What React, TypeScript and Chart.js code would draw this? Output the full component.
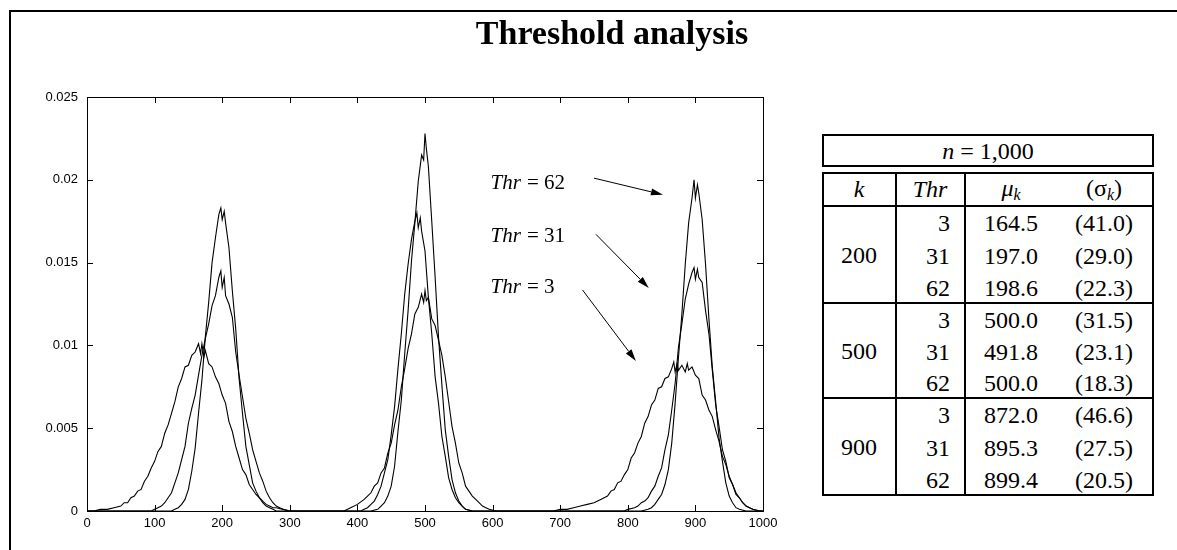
import React, { useEffect, useRef } from "react";
import { Chart, registerables } from "chart.js";

Chart.register(...registerables);

// ---------- data ----------
const xTickLabels = ["0", "100", "200", "300", "400", "500", "600", "700", "800", "900", "1000"];
const yTickLabels = ["0", "0.005", "0.01", "0.015", "0.02", "0.025"];

const thr62Points: number[][] = [
  [0, 0], [125, 0], [130, 0.0001], [135, 0.0002], [140, 0.0004], [145, 0.0007], [150, 0.0013], [155, 0.0024],
  [160, 0.0038], [165, 0.0059], [170, 0.0079], [175, 0.0105], [180, 0.0126], [185, 0.015], [190, 0.0165],
  [195, 0.0179], [198, 0.0183], [200, 0.0176], [203, 0.0181], [205, 0.0174], [210, 0.0159], [215, 0.0133],
  [220, 0.011], [225, 0.008], [230, 0.0059], [235, 0.0039], [240, 0.0028], [245, 0.0017], [250, 0.0012],
  [255, 0.0008], [260, 0.0005], [265, 0.0003], [270, 0.0002], [275, 0.0001], [280, 0],
  [420, 0], [430, 0.0001], [435, 0.0003], [440, 0.0005], [445, 0.0009], [450, 0.0015], [455, 0.0027],
  [460, 0.0048], [465, 0.0067], [470, 0.0095], [475, 0.0121], [480, 0.0151], [485, 0.0174], [490, 0.0199],
  [495, 0.0215], [498, 0.0212], [500, 0.0228], [502, 0.0219], [505, 0.0208], [510, 0.0175], [515, 0.0141],
  [520, 0.0105], [525, 0.0076], [530, 0.0049], [535, 0.0033], [540, 0.0019], [545, 0.0011], [550, 0.0006],
  [555, 0.0003], [560, 0.0001], [570, 0],
  [820, 0], [830, 0.0001], [835, 0.0002], [840, 0.0004], [845, 0.0007], [850, 0.001], [855, 0.0016],
  [860, 0.0025], [865, 0.0041], [870, 0.0065], [875, 0.0093], [880, 0.0119], [885, 0.0149], [890, 0.0174],
  [895, 0.0189], [898, 0.02], [900, 0.0189], [903, 0.0197], [905, 0.0192], [910, 0.0176], [915, 0.0149],
  [920, 0.0116], [925, 0.0087], [930, 0.0066], [935, 0.0044], [940, 0.003], [945, 0.0017], [950, 0.0009],
  [955, 0.0005], [960, 0.0002], [965, 0.0001], [975, 0], [1000, 0],
];

const thr31Points: number[][] = [
  [0, 0], [95, 0], [100, 0.0001], [105, 0.0002], [110, 0.0003], [115, 0.0005], [120, 0.0008], [125, 0.0011],
  [130, 0.0017], [135, 0.0023], [140, 0.0031], [145, 0.0039], [150, 0.0053], [155, 0.0062], [160, 0.007],
  [165, 0.0082], [170, 0.0094], [175, 0.0104], [180, 0.0113], [185, 0.0124], [190, 0.013], [195, 0.0141],
  [198, 0.0145], [200, 0.0135], [203, 0.0141], [205, 0.013], [210, 0.0125], [215, 0.0117], [220, 0.0096],
  [225, 0.0082], [230, 0.0069], [235, 0.0056], [240, 0.0047], [245, 0.0037], [250, 0.003], [255, 0.0023],
  [260, 0.0018], [265, 0.0012], [270, 0.0008], [275, 0.0005], [280, 0.0003], [285, 0.0002], [290, 0.0001], [300, 0],
  [405, 0], [410, 0.0001], [415, 0.0002], [420, 0.0004], [425, 0.0006], [430, 0.001], [435, 0.0015],
  [440, 0.0023], [445, 0.0031], [450, 0.0046], [455, 0.0063], [460, 0.0086], [465, 0.0107], [470, 0.0131],
  [475, 0.0149], [480, 0.0164], [485, 0.0175], [488, 0.018], [490, 0.0171], [493, 0.0177], [495, 0.0169],
  [500, 0.0157], [505, 0.0129], [510, 0.0107], [515, 0.0081], [520, 0.0065], [525, 0.0045], [530, 0.0033],
  [535, 0.002], [540, 0.0013], [545, 0.0008], [550, 0.0005], [555, 0.0003], [560, 0.0001], [570, 0],
  [795, 0], [800, 0.0001], [810, 0.0002], [815, 0.0003], [820, 0.0005], [825, 0.0006], [830, 0.0008],
  [835, 0.0012], [840, 0.0015], [845, 0.0021], [850, 0.0026], [855, 0.0037], [860, 0.0046], [865, 0.0061],
  [870, 0.0077], [875, 0.0099], [880, 0.0113], [885, 0.0128], [890, 0.0137], [895, 0.0144], [898, 0.0147],
  [900, 0.014], [903, 0.0146], [905, 0.0141], [910, 0.0138], [915, 0.0121], [920, 0.0107], [925, 0.0085],
  [930, 0.0064], [935, 0.0051], [940, 0.0037], [945, 0.003], [950, 0.002], [955, 0.0016], [960, 0.001],
  [965, 0.0008], [970, 0.0005], [975, 0.0003], [980, 0.0002], [985, 0.0001], [995, 0], [1000, 0],
];

const thr3Points: number[][] = [
  [0, 0], [10, 0], [20, 0.0001], [30, 0.0001], [40, 0.0002], [50, 0.0003], [55, 0.0005], [60, 0.0005],
  [65, 0.0008], [70, 0.0009], [75, 0.0012], [80, 0.0013], [85, 0.0018], [90, 0.0021], [95, 0.0026],
  [100, 0.003], [105, 0.0036], [110, 0.0039], [115, 0.0047], [120, 0.0052], [125, 0.0059], [130, 0.0066],
  [135, 0.0075], [140, 0.008], [145, 0.0087], [150, 0.0088], [155, 0.0094], [160, 0.0096], [165, 0.0101],
  [168, 0.0095], [170, 0.0101], [173, 0.0093], [175, 0.0097], [180, 0.0089], [185, 0.0087], [190, 0.0081],
  [195, 0.0077], [200, 0.007], [205, 0.0065], [210, 0.0054], [215, 0.0048], [220, 0.0039], [225, 0.0032],
  [230, 0.0025], [235, 0.0022], [240, 0.0016], [245, 0.0013], [250, 0.001], [255, 0.0008], [260, 0.0006],
  [265, 0.0004], [270, 0.0003], [275, 0.0002], [280, 0.0002], [290, 0.0001], [300, 0],
  [380, 0], [390, 0.0002], [400, 0.0004], [410, 0.0007], [415, 0.0009], [420, 0.0011], [425, 0.0015],
  [430, 0.0017], [435, 0.0023], [440, 0.0026], [445, 0.0035], [450, 0.0041], [455, 0.0052], [460, 0.0061],
  [465, 0.0075], [470, 0.0086], [475, 0.0098], [480, 0.0107], [485, 0.0119], [490, 0.0123], [495, 0.0131],
  [498, 0.0126], [500, 0.0133], [502, 0.0127], [505, 0.0129], [510, 0.0116], [515, 0.0112], [520, 0.0103],
  [525, 0.0094], [530, 0.0081], [535, 0.0066], [540, 0.0051], [545, 0.0041], [550, 0.0029], [555, 0.0023],
  [560, 0.0015], [565, 0.0012], [570, 0.0009], [575, 0.0007], [580, 0.0005], [585, 0.0003], [590, 0.0002],
  [595, 0.0001], [605, 0],
  [690, 0], [700, 0.0001], [710, 0.0001], [720, 0.0002], [730, 0.0003], [740, 0.0004], [750, 0.0005],
  [760, 0.0007], [770, 0.0009], [775, 0.0012], [780, 0.0013], [785, 0.0017], [790, 0.0018], [795, 0.0022],
  [800, 0.0025], [805, 0.0032], [810, 0.0035], [815, 0.0041], [820, 0.0045], [825, 0.0053], [830, 0.0057],
  [835, 0.0064], [840, 0.0067], [845, 0.0074], [850, 0.0075], [855, 0.008], [860, 0.0081], [865, 0.0086],
  [868, 0.009], [870, 0.0084], [873, 0.0089], [875, 0.0085], [880, 0.0088], [885, 0.0084], [888, 0.0089],
  [890, 0.0085], [895, 0.0087], [900, 0.0082], [905, 0.008], [910, 0.007], [915, 0.0067], [920, 0.0061],
  [925, 0.0057], [930, 0.0049], [935, 0.0042], [940, 0.0033], [945, 0.0028], [950, 0.0021], [955, 0.0016],
  [960, 0.0011], [965, 0.0008], [970, 0.0005], [975, 0.0003], [980, 0.0002], [985, 0.0001], [995, 0], [1000, 0],
];

// annotations (data coordinates)
const annotationLabels = ["62", "31", "3"];
const annotationTextPos = [[597, 0.0198], [597, 0.0166], [597, 0.01347]];
const arrowStarts = [[750, 0.0201], [753, 0.0167], [733, 0.01335]];
const arrowEnds = [[852, 0.0191], [831, 0.01347], [812, 0.00906]];

// table
const tableN = "1,000";
const kValues = ["200", "500", "900"];
const thrValues = ["3", "31", "62"];
const muValues = [
  ["164.5", "197.0", "198.6"],
  ["500.0", "491.8", "500.0"],
  ["872.0", "895.3", "899.4"],
];
const sigmaValues = [
  ["41.0", "29.0", "22.3"],
  ["31.5", "23.1", "18.3"],
  ["46.6", "27.5", "20.5"],
];

const toXY = (pts: number[][]) => pts.map((p) => ({ x: p[0], y: p[1] }));

const framePlugin = {
  id: "frameTicks",
  afterDraw(chart: any) {
    const { ctx, chartArea: a, scales } = chart;
    const xs = scales.x;
    const ys = scales.y;
    ctx.save();
    ctx.strokeStyle = "#000";
    ctx.lineWidth = 1;
    ctx.strokeRect(a.left + 0.5, a.top + 0.5, a.right - a.left, a.bottom - a.top);
    const L = 6;
    ctx.beginPath();
    xs.ticks.forEach((t: any) => {
      const px = Math.round(xs.getPixelForValue(t.value)) + 0.5;
      ctx.moveTo(px, a.bottom);
      ctx.lineTo(px, a.bottom - L);
      ctx.moveTo(px, a.top);
      ctx.lineTo(px, a.top + L);
    });
    ys.ticks.forEach((t: any) => {
      const py = Math.round(ys.getPixelForValue(t.value)) + 0.5;
      ctx.moveTo(a.left, py);
      ctx.lineTo(a.left + L, py);
      ctx.moveTo(a.right, py);
      ctx.lineTo(a.right - L, py);
    });
    ctx.stroke();

    // annotations
    ctx.fillStyle = "#000";
    ctx.textBaseline = "middle";
    annotationLabels.forEach((lab, i) => {
      const tx = xs.getPixelForValue(annotationTextPos[i][0]);
      const ty = ys.getPixelForValue(annotationTextPos[i][1]);
      ctx.font = 'italic 21px "Liberation Serif"';
      ctx.textAlign = "left";
      ctx.fillText("Thr", tx, ty);
      const w = ctx.measureText("Thr").width;
      ctx.font = '21px "Liberation Serif"';
      ctx.fillText("= " + lab, tx + w + 6, ty);

      const sx = xs.getPixelForValue(arrowStarts[i][0]);
      const sy = ys.getPixelForValue(arrowStarts[i][1]);
      const ex = xs.getPixelForValue(arrowEnds[i][0]);
      const ey = ys.getPixelForValue(arrowEnds[i][1]);
      const ang = Math.atan2(ey - sy, ex - sx);
      const hl = 12;
      const hw = 3.5;
      const bx = ex - hl * Math.cos(ang);
      const by = ey - hl * Math.sin(ang);
      ctx.beginPath();
      ctx.moveTo(sx, sy);
      ctx.lineTo(bx, by);
      ctx.stroke();
      ctx.beginPath();
      ctx.moveTo(ex, ey);
      ctx.lineTo(bx + hw * Math.sin(ang), by - hw * Math.cos(ang));
      ctx.lineTo(bx - hw * Math.sin(ang), by + hw * Math.cos(ang));
      ctx.closePath();
      ctx.fill();
    });
    ctx.restore();
  },
};

const serif = '"Liberation Serif", "Times New Roman", serif';

const Txt = ({ x, y, align = "center", size = 24, children }: any) => (
  <div
    style={{
      position: "absolute",
      left: x,
      top: y,
      transform: `translate(${align === "right" ? "-100%" : align === "left" ? "0" : "-50%"}, -50%)`,
      whiteSpace: "nowrap",
      lineHeight: 1,
      fontFamily: serif,
      fontSize: size,
      color: "#000",
    }}
  >
    {children}
  </div>
);

const HLine = ({ x, y, w, t = 2 }: any) => (
  <div style={{ position: "absolute", left: x, top: y, width: w, height: t, background: "#000" }} />
);
const VLine = ({ x, y, h, t = 2 }: any) => (
  <div style={{ position: "absolute", left: x, top: y, width: t, height: h, background: "#000" }} />
);

function Table() {
  const L = 822;
  const R = 1154;
  const top = 172;
  const headBottom = 206;
  const groupTops = [206, 303, 398];
  const bottom = 495;
  const c1 = 896;
  const c2 = 965;
  const rows: any[] = [];
  groupTops.forEach((gt, g) => {
    const gb = g < 2 ? groupTops[g + 1] : bottom;
    const rh = (gb - gt) / 3;
    rows.push(
      <Txt key={"k" + g} x={(L + c1) / 2} y={(gt + gb) / 2}>
        {kValues[g]}
      </Txt>
    );
    for (let r = 0; r < 3; r++) {
      const cy = gt + rh * (r + 0.5) + 1;
      rows.push(
        <Txt key={`t${g}${r}`} x={950} y={cy} align="right">
          {thrValues[r]}
        </Txt>
      );
      rows.push(
        <Txt key={`m${g}${r}`} x={1011} y={cy}>
          {muValues[g][r]}
        </Txt>
      );
      rows.push(
        <Txt key={`s${g}${r}`} x={1104} y={cy}>
          ({sigmaValues[g][r]})
        </Txt>
      );
    }
  });
  return (
    <>
      <div
        style={{
          position: "absolute",
          left: L,
          top: 134,
          width: R - L,
          height: 33,
          border: "2px solid #000",
          boxSizing: "border-box",
        }}
      />
      <Txt x={(L + R) / 2} y={151}>
        <i>n</i> = {tableN}
      </Txt>
      <div
        style={{
          position: "absolute",
          left: L,
          top: top,
          width: R - L,
          height: bottom - top + 1,
          border: "2px solid #000",
          boxSizing: "border-box",
        }}
      />
      <VLine x={c1 - 1} y={top} h={bottom - top} />
      <VLine x={c2 - 1} y={top} h={bottom - top} />
      <HLine x={L} y={headBottom - 1} w={R - L} />
      <HLine x={L} y={groupTops[1] - 1} w={R - L} />
      <HLine x={L} y={groupTops[2] - 1} w={R - L} />
      <Txt x={(L + c1) / 2} y={189}>
        <i>k</i>
      </Txt>
      <Txt x={930} y={189}>
        <i>Thr</i>
      </Txt>
      <Txt x={1011} y={189}>
        <i>μ</i>
        <sub style={{ fontSize: 16, verticalAlign: "-4px" }}>
          <i>k</i>
        </sub>
      </Txt>
      <Txt x={1104} y={189}>
        (σ<sub style={{ fontSize: 16, verticalAlign: "-4px" }}><i>k</i></sub>)
      </Txt>
      {rows}
    </>
  );
}

export default function App() {
  const canvasRef = useRef<HTMLCanvasElement | null>(null);

  useEffect(() => {
    if (!canvasRef.current) return;
    const line = (pts: number[][], label: string) => ({
      label,
      data: toXY(pts),
      borderColor: "#000",
      borderWidth: 1.1,
      pointRadius: 0,
      tension: 0,
      fill: false,
    });
    const chart = new Chart(canvasRef.current, {
      type: "line",
      data: {
        datasets: [line(thr3Points, "Thr = 3"), line(thr31Points, "Thr = 31"), line(thr62Points, "Thr = 62")],
      },
      options: {
        animation: false,
        responsive: false,
        devicePixelRatio: 1,
        layout: { padding: { top: 97, right: 37, left: 0, bottom: 0 } },
        plugins: { legend: { display: false }, tooltip: { enabled: false }, title: { display: false } },
        scales: {
          x: {
            type: "linear",
            min: 0,
            max: 1000,
            grid: { display: false, drawTicks: false },
            border: { display: false },
            ticks: {
              stepSize: 100,
              padding: 5,
              color: "#000",
              maxRotation: 0,
              font: { family: '"Liberation Sans", Arial, sans-serif', size: 13 },
              callback: (v: any, i: number) => xTickLabels[i],
            },
            afterFit: (s: any) => {
              s.height = 39;
            },
          },
          y: {
            type: "linear",
            min: 0,
            max: 0.025,
            grid: { display: false, drawTicks: false },
            border: { display: false },
            ticks: {
              stepSize: 0.005,
              padding: 9,
              color: "#000",
              font: { family: '"Liberation Sans", Arial, sans-serif', size: 13 },
              callback: (v: any, i: number) => yTickLabels[i],
            },
            afterFit: (s: any) => {
              s.width = 87;
            },
          },
        },
      },
      plugins: [framePlugin],
    } as any);
    return () => chart.destroy();
  }, []);

  return (
    <div
      style={{
        position: "fixed",
        left: 0,
        top: 0,
        width: 1177,
        height: 550,
        background: "#fff",
        overflow: "hidden",
      }}
    >
      <div
        style={{
          position: "absolute",
          left: 9,
          top: 10,
          width: 1200,
          height: 600,
          borderLeft: "2px solid #000",
          borderTop: "2px solid #000",
        }}
      />
      <canvas ref={canvasRef} width={800} height={550} style={{ position: "absolute", left: 0, top: 0 }} />
      <div
        style={{
          position: "absolute",
          left: 612,
          top: 33,
          transform: "translate(-50%, -50%)",
          fontFamily: serif,
          fontWeight: "bold",
          fontSize: 34,
          lineHeight: 1,
          whiteSpace: "nowrap",
          color: "#000",
        }}
      >
        Threshold analysis
      </div>
      <Table />
    </div>
  );
}
